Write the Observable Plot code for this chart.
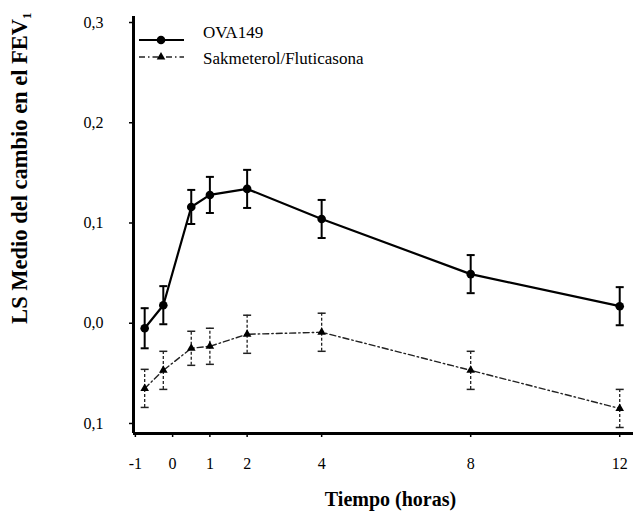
<!DOCTYPE html>
<html><head><meta charset="utf-8">
<script src="https://cdn.jsdelivr.net/npm/d3@7"></script>
<script src="https://cdn.jsdelivr.net/npm/@observablehq/plot@0.6"></script>
<style>
body{margin:0;background:#fff;}
#wrap{position:relative;width:635px;height:513px;font-family:"Liberation Serif",serif;color:#000;}
#legend{position:absolute;left:0;top:0;width:400px;height:80px;pointer-events:none;}
</style></head><body><div id="wrap"></div>
<script>
// ---- data ----
const times = [-0.75, -0.25, 0.5, 1, 2, 4, 8, 12];
const ova149 = [-0.005, 0.018, 0.116, 0.128, 0.134, 0.104, 0.049, 0.017];
const ova149Err = [0.020, 0.019, 0.017, 0.018, 0.019, 0.019, 0.019, 0.019];
const salFlu = [-0.065, -0.047, -0.025, -0.023, -0.011, -0.009, -0.047, -0.085];
const salFluErr = [0.019, 0.019, 0.017, 0.018, 0.019, 0.019, 0.019, 0.019];
const seriesNames = ["OVA149", "Sakmeterol/Fluticasona"];
const xTicks = [-1, 0, 1, 2, 4, 8, 12];
const xTickLabels = ["-1", "0", "1", "2", "4", "8", "12"];
const yTicks = [0.3, 0.2, 0.1, 0.0, -0.1];
const yTickLabels = ["0,3", "0,2", "0,1", "0,0", "0,1"];
const xLabel = "Tiempo (horas)";
const yLabel = "LS Medio del cambio en el FEV₁";

// ---- tables ----
const mk = (vals, errs) => times.map((t, i) => ({t, v: vals[i], lo: vals[i] - errs[i], hi: vals[i] + errs[i]}));
const rowsA = mk(ova149, ova149Err);
const rowsB = mk(salFlu, salFluErr);

const xDomain = [-1.05, 12.37];
const yDomain = [-0.11, 0.306];
const hbar = {draw(ctx, size) { const r = Math.sqrt(size / Math.PI); ctx.moveTo(-r, 0); ctx.lineTo(r, 0); }};
const dashB = "6,3,1.5,3";

const chart = Plot.plot({
  width: 635, height: 513,
  marginLeft: 133, marginRight: 2, marginTop: 16, marginBottom: 80,
  style: {fontFamily: "Liberation Serif, serif", fontSize: "16px", color: "#000", background: "#fff"},
  x: {domain: xDomain},
  y: {domain: yDomain},
  marks: [
    Plot.axisX(xTicks, {tickFormat: d => xTickLabels[xTicks.indexOf(d)], tickSize: 4, tickPadding: 20, fontSize: 16, label: null, strokeWidth: 1.5}),
    Plot.axisY(yTicks, {tickFormat: d => yTickLabels[yTicks.indexOf(d)], tickSize: 4, tickPadding: 26, fontSize: 16, label: null, strokeWidth: 1.5}),
    Plot.ruleX([xDomain[0]], {stroke: "#000", strokeWidth: 3}),
    Plot.ruleY([yDomain[0]], {stroke: "#000", strokeWidth: 3}),
    // series B (dashed)
    Plot.ruleX(rowsB, {x: "t", y1: "lo", y2: "hi", stroke: "#222", strokeWidth: 1.3, strokeDasharray: "3,2"}),
    Plot.dot(rowsB, {x: "t", y: "lo", symbol: hbar, r: 4, stroke: "#222", strokeWidth: 1.5}),
    Plot.dot(rowsB, {x: "t", y: "hi", symbol: hbar, r: 4, stroke: "#222", strokeWidth: 1.5}),
    Plot.line(rowsB, {x: "t", y: "v", stroke: "#222", strokeWidth: 1.4, strokeDasharray: dashB}),
    Plot.dot(rowsB, {x: "t", y: "v", symbol: "triangle", r: 3.2, fill: "#000"}),
    // series A (solid)
    Plot.ruleX(rowsA, {x: "t", y1: "lo", y2: "hi", stroke: "#000", strokeWidth: 2}),
    Plot.dot(rowsA, {x: "t", y: "lo", symbol: hbar, r: 4, stroke: "#000", strokeWidth: 2}),
    Plot.dot(rowsA, {x: "t", y: "hi", symbol: hbar, r: 4, stroke: "#000", strokeWidth: 2}),
    Plot.line(rowsA, {x: "t", y: "v", stroke: "#000", strokeWidth: 2.2}),
    Plot.dot(rowsA, {x: "t", y: "v", r: 4.3, fill: "#000"}),
    // axis titles
    Plot.text([xLabel], {frameAnchor: "bottom", textAnchor: "middle", dx: 7, dy: 66, lineAnchor: "middle", fontSize: 20, fontWeight: "bold"}),
    Plot.text([yLabel], {frameAnchor: "left", textAnchor: "middle", rotate: -90, dx: -114, dy: -57, lineAnchor: "middle", fontSize: 22.5, fontWeight: "bold"})
  ]
});
const wrap = document.getElementById("wrap");
wrap.appendChild(chart);

// ---- legend ----
const legend = document.createElementNS("http://www.w3.org/2000/svg", "svg");
legend.setAttribute("id", "legend");
legend.setAttribute("width", 400);
legend.setAttribute("height", 80);
const triPath = d3.symbol(d3.symbolTriangle, 32)();
legend.innerHTML = `
  <line x1="139" x2="184" y1="40" y2="40" stroke="#000" stroke-width="2.2"/>
  <circle cx="161" cy="40" r="4.3" fill="#000"/>
  <text x="203" y="33" dy="0.32em" font-family="Liberation Serif, serif" font-size="17">${seriesNames[0]}</text>
  <line x1="139" x2="184" y1="57" y2="57" stroke="#222" stroke-width="1.4" stroke-dasharray="${dashB}"/>
  <path transform="translate(161,57)" d="${triPath}" fill="#000"/>
  <text x="203" y="59" dy="0.32em" font-family="Liberation Serif, serif" font-size="17">${seriesNames[1]}</text>`;
wrap.appendChild(legend);
</script></body></html>
